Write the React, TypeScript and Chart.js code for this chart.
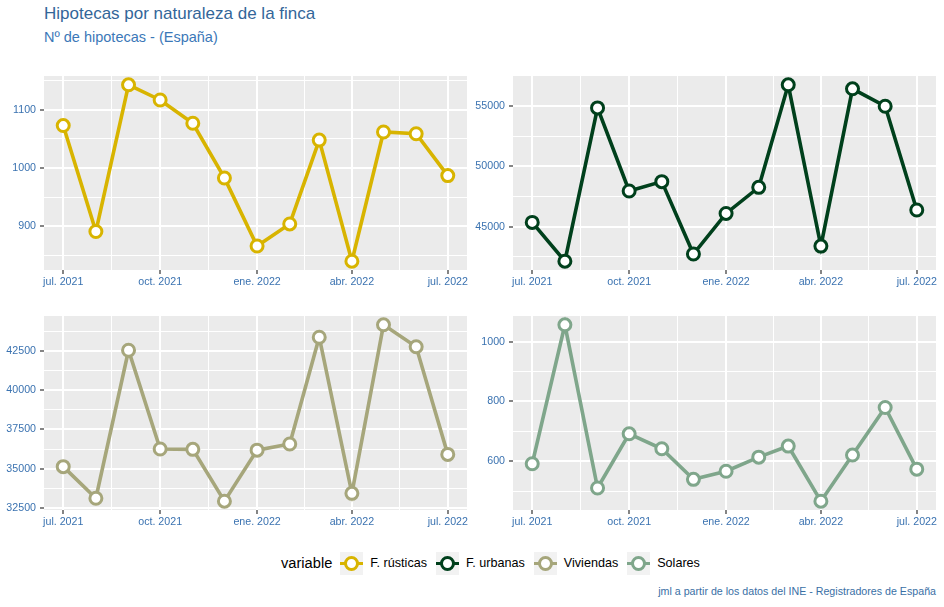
import React, { useEffect, useRef } from "react";
import { Chart, registerables } from "chart.js";

Chart.register(...registerables);

const FONT = "'Liberation Sans', Arial, Helvetica, sans-serif";

// ---- data ----
const months = [
  "2021-07", "2021-08", "2021-09", "2021-10", "2021-11", "2021-12",
  "2022-01", "2022-02", "2022-03", "2022-04", "2022-05", "2022-06", "2022-07",
];
const rusticas = [1073, 891, 1143, 1117, 1077, 983, 866, 904, 1048, 840, 1062, 1059, 987];
const urbanas = [45360, 42150, 54830, 47960, 48730, 42740, 46100, 48260, 56740, 43400, 56410, 54970, 46380];
const viviendas = [35130, 33120, 42540, 36250, 36230, 32930, 36180, 36570, 43370, 33430, 44160, 42760, 35910];
const solares = [592, 1056, 511, 692, 642, 540, 567, 614, 651, 467, 621, 780, 574];

const xTickDates = ["2021-07", "2021-10", "2022-01", "2022-04", "2022-07"];
const xTickLabels = ["jul. 2021", "oct. 2021", "ene. 2022", "abr. 2022", "jul. 2022"];
const rusticasTicks = [900, 1000, 1100];
const urbanasTicks = [45000, 50000, 55000];
const viviendasTicks = [32500, 35000, 37500, 40000, 42500];
const solaresTicks = [600, 800, 1000];

const seriesNames = ["F. rústicas", "F. urbanas", "Viviendas", "Solares"];
const seriesColors = ["#D8B400", "#00401C", "#A6A67B", "#7FA68B"];

// ---- styling ----
const TICK_COLOR = "#3A72B0";
const PANEL_BG = "#EBEBEB";
const PANEL_W = 423;
const PANEL_H = 194;
const AXIS_W = 44;
const AXIS_H = 24;
const PAD = 12;

function dayOf(ym: string): number {
  const [y, m] = ym.split("-").map(Number);
  return (Date.UTC(y, m - 1, 1) - Date.UTC(2021, 6, 1)) / 86400000;
}

type T = { v: number; major: boolean; label: string };

function buildTicks(majors: number[], labels: string[], lo: number, hi: number): T[] {
  const out: T[] = majors.map((v, i) => ({ v, major: true, label: labels[i] }));
  for (let i = 0; i < majors.length - 1; i++) {
    out.push({ v: (majors[i] + majors[i + 1]) / 2, major: false, label: "" });
  }
  if (majors.length > 1) {
    const s0 = majors[1] - majors[0];
    const s1 = majors[majors.length - 1] - majors[majors.length - 2];
    const a = majors[0] - s0 / 2;
    const b = majors[majors.length - 1] + s1 / 2;
    if (a >= lo) out.push({ v: a, major: false, label: "" });
    if (b <= hi) out.push({ v: b, major: false, label: "" });
  }
  return out.filter((t) => t.v >= lo && t.v <= hi).sort((p, q) => p.v - q.v);
}

const bgPlugin = {
  id: "panelBg",
  beforeDraw(chart: any) {
    const { ctx, chartArea } = chart;
    ctx.save();
    ctx.fillStyle = PANEL_BG;
    ctx.fillRect(chartArea.left, chartArea.top, chartArea.right - chartArea.left, chartArea.bottom - chartArea.top);
    ctx.restore();
  },
};

function Panel(props: { values: number[]; color: string; yTicks: number[]; left: number; top: number }) {
  const ref = useRef<HTMLCanvasElement>(null);
  const { values, color, yTicks, left, top } = props;
  useEffect(() => {
    if (!ref.current) return;
    const xs = months.map(dayOf);
    const x0 = Math.min(...xs);
    const x1 = Math.max(...xs);
    const xmin = x0 - 0.05 * (x1 - x0);
    const xmax = x1 + 0.05 * (x1 - x0);
    const y0 = Math.min(...values);
    const y1 = Math.max(...values);
    const ymin = y0 - 0.05 * (y1 - y0);
    const ymax = y1 + 0.05 * (y1 - y0);
    const xT = buildTicks(xTickDates.map(dayOf), xTickLabels, xmin, xmax);
    const yT = buildTicks(yTicks, yTicks.map(String), ymin, ymax);

    const gridCommon = (list: T[]) => ({
      color: "#FFFFFF",
      lineWidth: (c: any) => (list[c.index] && list[c.index].major ? 2 : 1),
      tickColor: (c: any) => (list[c.index] && list[c.index].major ? "#333333" : "rgba(0,0,0,0)"),
      tickLength: 4,
      tickWidth: 1.2,
      drawTicks: true,
    });

    const chart = new Chart(ref.current, {
      type: "line",
      data: {
        datasets: [
          {
            data: xs.map((x, i) => ({ x, y: values[i] })),
            borderColor: color,
            borderWidth: 3.6,
            pointRadius: 6,
            pointBorderWidth: 3,
            pointBackgroundColor: "#FFFFFF",
            pointBorderColor: color,
            tension: 0,
            clip: false as any,
          },
        ],
      },
      options: {
        animation: false,
        responsive: false,
        maintainAspectRatio: false,
        layout: { padding: { top: PAD, right: PAD, left: 0, bottom: 0 } },
        plugins: { legend: { display: false }, tooltip: { enabled: false } },
        scales: {
          x: {
            type: "linear",
            min: xmin,
            max: xmax,
            afterBuildTicks: (s: any) => {
              s.ticks = xT.map((t) => ({ value: t.v }));
            },
            afterFit: (s: any) => {
              s.height = AXIS_H;
            },
            ticks: {
              autoSkip: false,
              maxRotation: 0,
              minRotation: 0,
              padding: 2,
              color: TICK_COLOR,
              font: { family: FONT, size: 10.67 },
              callback: (_v: any, i: number) => (xT[i] ? xT[i].label : ""),
            },
            grid: gridCommon(xT) as any,
            border: { display: false },
          },
          y: {
            type: "linear",
            min: ymin,
            max: ymax,
            afterBuildTicks: (s: any) => {
              s.ticks = yT.map((t) => ({ value: t.v }));
            },
            afterFit: (s: any) => {
              s.width = AXIS_W;
            },
            ticks: {
              autoSkip: false,
              padding: 4,
              color: TICK_COLOR,
              font: { family: FONT, size: 10.67 },
              callback: (_v: any, i: number) => (yT[i] ? yT[i].label : ""),
            },
            grid: gridCommon(yT) as any,
            border: { display: false },
          },
        },
      },
      plugins: [bgPlugin],
    });
    return () => chart.destroy();
  }, [values, color, yTicks]);

  const w = AXIS_W + PANEL_W + PAD;
  const h = PAD + PANEL_H + AXIS_H;
  return (
    <canvas
      ref={ref}
      width={w}
      height={h}
      style={{ position: "absolute", left: left - AXIS_W, top: top - PAD, width: w, height: h }}
    />
  );
}

function LegendKey({ color }: { color: string }) {
  return (
    <div style={{ position: "relative", width: 23, height: 23, background: "#F2F2F2", flex: "none" }}>
      <div
        style={{
          position: "absolute",
          left: 0,
          right: 0,
          top: 10,
          height: 3,
          background: color,
        }}
      />
      <div
        style={{
          position: "absolute",
          left: 4,
          top: 4,
          width: 15,
          height: 15,
          boxSizing: "border-box",
          border: `3px solid ${color}`,
          borderRadius: "50%",
          background: "#FFFFFF",
        }}
      />
    </div>
  );
}

export default function App() {
  useEffect(() => {
    document.body.style.margin = "0";
  }, []);
  const panels = [
    { values: rusticas, yTicks: rusticasTicks, left: 44, top: 76 },
    { values: urbanas, yTicks: urbanasTicks, left: 513, top: 76 },
    { values: viviendas, yTicks: viviendasTicks, left: 44, top: 316 },
    { values: solares, yTicks: solaresTicks, left: 513, top: 316 },
  ];
  return (
    <div
      style={{
        position: "fixed",
        left: 0,
        top: 0,
        width: 944,
        height: 607,
        background: "#FFFFFF",
        overflow: "hidden",
        fontFamily: FONT,
      }}
    >
      <div style={{ position: "absolute", left: 44, top: 5, fontSize: 17, lineHeight: "17px", color: "#336699", whiteSpace: "nowrap" }}>
        Hipotecas por naturaleza de la finca
      </div>
      <div style={{ position: "absolute", left: 44, top: 30, fontSize: 14.5, lineHeight: "14.5px", color: "#3B78B8", whiteSpace: "nowrap" }}>
        Nº de hipotecas - (España)
      </div>

      {panels.map((p, i) => (
        <Panel key={i} values={p.values} color={seriesColors[i]} yTicks={p.yTicks} left={p.left} top={p.top} />
      ))}

      <div
        style={{
          position: "absolute",
          left: 281,
          top: 551,
          height: 24,
          display: "flex",
          alignItems: "center",
          whiteSpace: "nowrap",
        }}
      >
        <span style={{ fontSize: 14.67, color: "#000000", marginRight: 8 }}>variable</span>
        {seriesNames.map((n, i) => (
          <React.Fragment key={n}>
            <LegendKey color={seriesColors[i]} />
            <span style={{ fontSize: 12.6, color: "#000000", marginLeft: 7, marginRight: 9 }}>{n}</span>
          </React.Fragment>
        ))}
      </div>

      <div
        style={{
          position: "absolute",
          right: 8,
          top: 586,
          fontSize: 10.67,
          lineHeight: "10.67px",
          color: "#3A6FA5",
          whiteSpace: "nowrap",
        }}
      >
        jml a partir de los datos del INE - Registradores de España
      </div>
    </div>
  );
}
